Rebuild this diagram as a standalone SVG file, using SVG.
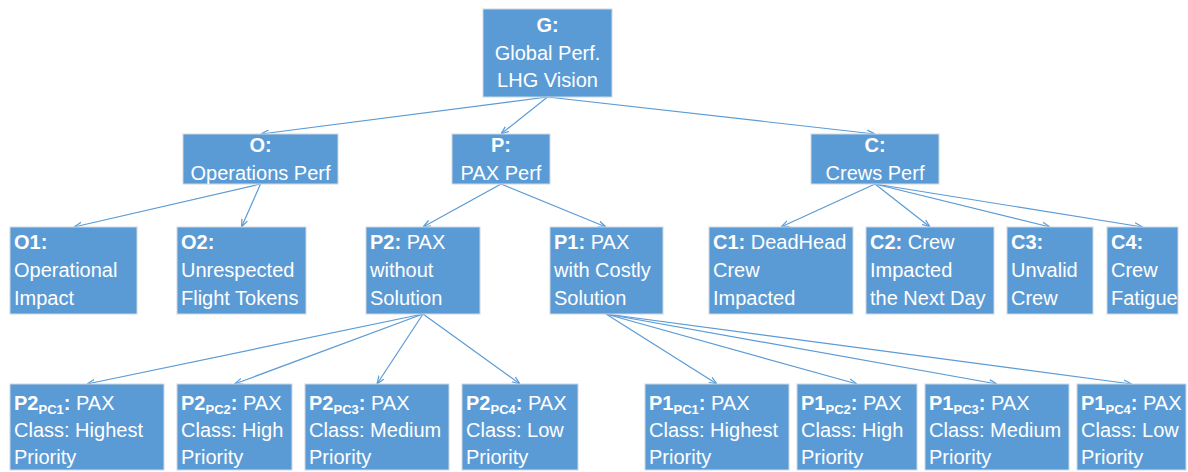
<svg xmlns="http://www.w3.org/2000/svg" width="1188" height="472" viewBox="0 0 1188 472">
<style>
.box{fill:#5B9BD5;stroke:#cfd8e2;stroke-width:1}
.t{font-family:"Liberation Sans",Arial,sans-serif;font-size:20px;fill:#ffffff}
.c{text-anchor:middle}
.b{font-weight:bold}
.s{font-size:13px}
.ln{stroke:#5B9BD5;stroke-width:1.2;fill:none;marker-end:url(#ah)}
</style>
<defs>
<marker id="ah" viewBox="0 0 8 8" refX="8" refY="4" markerWidth="8" markerHeight="8" markerUnits="userSpaceOnUse" orient="auto">
<path d="M0,1 L8,4 L0,7" fill="none" stroke="#5B9BD5" stroke-width="1.2"/>
</marker>
</defs>
<rect width="1188" height="472" fill="#ffffff"/>
<g id="connectors">
<line class="ln" x1="547.5" y1="97" x2="261" y2="134"/>
<line class="ln" x1="547.5" y1="97" x2="501" y2="134"/>
<line class="ln" x1="547.5" y1="97" x2="875" y2="134"/>
<line class="ln" x1="260.5" y1="184" x2="74" y2="227"/>
<line class="ln" x1="260.5" y1="184" x2="241.5" y2="227"/>
<line class="ln" x1="501" y1="184" x2="423" y2="227"/>
<line class="ln" x1="501" y1="184" x2="606" y2="227"/>
<line class="ln" x1="875" y1="184" x2="781" y2="227"/>
<line class="ln" x1="875" y1="184" x2="930" y2="227"/>
<line class="ln" x1="875" y1="184" x2="1050" y2="227"/>
<line class="ln" x1="875" y1="184" x2="1142.5" y2="227"/>
<line class="ln" x1="423" y1="314" x2="87" y2="384"/>
<line class="ln" x1="423" y1="314" x2="234.5" y2="384"/>
<line class="ln" x1="423" y1="314" x2="377" y2="384"/>
<line class="ln" x1="423" y1="314" x2="520" y2="384"/>
<line class="ln" x1="606" y1="314" x2="717" y2="384"/>
<line class="ln" x1="606" y1="314" x2="857" y2="384"/>
<line class="ln" x1="606" y1="314" x2="997" y2="384"/>
<line class="ln" x1="606" y1="314" x2="1131.5" y2="384"/>
</g>
<g id="G">
<rect class="box" x="483" y="9" width="129" height="88"/>
<text class="t c" x="547.5" y="32"><tspan class="b">G:</tspan></text>
<text class="t c" x="547.5" y="60">Global Perf.</text>
<text class="t c" x="547.5" y="87">LHG Vision</text>
</g>
<g id="O">
<rect class="box" x="183" y="134" width="155" height="50"/>
<text class="t c b" x="260.5" y="152">O:</text>
<text class="t c" x="260.5" y="180">Operations Perf</text>
</g>
<g id="P">
<rect class="box" x="452" y="134" width="98" height="50"/>
<text class="t c b" x="501" y="152">P:</text>
<text class="t c" x="501" y="180">PAX Perf</text>
</g>
<g id="C">
<rect class="box" x="811" y="134" width="128" height="50"/>
<text class="t c b" x="875" y="152">C:</text>
<text class="t c" x="875" y="180">Crews Perf</text>
</g>
<g id="O1">
<rect class="box" x="10" y="227" width="127" height="87"/>
<text class="t" x="14" y="249"><tspan class="b">O1:</tspan></text>
<text class="t" x="14" y="277">Operational</text>
<text class="t" x="14" y="305">Impact</text>
</g>
<g id="O2">
<rect class="box" x="177" y="227" width="129" height="87"/>
<text class="t" x="181" y="249"><tspan class="b">O2:</tspan></text>
<text class="t" x="181" y="277">Unrespected</text>
<text class="t" x="181" y="305">Flight Tokens</text>
</g>
<g id="P2">
<rect class="box" x="366" y="227" width="114" height="87"/>
<text class="t" x="370" y="249"><tspan class="b">P2:</tspan> PAX</text>
<text class="t" x="370" y="277">without</text>
<text class="t" x="370" y="305">Solution</text>
</g>
<g id="P1">
<rect class="box" x="550" y="227" width="113" height="87"/>
<text class="t" x="554" y="249"><tspan class="b">P1:</tspan> PAX</text>
<text class="t" x="554" y="277">with Costly</text>
<text class="t" x="554" y="305">Solution</text>
</g>
<g id="C1">
<rect class="box" x="709" y="227" width="144" height="87"/>
<text class="t" x="713" y="249"><tspan class="b">C1:</tspan> DeadHead</text>
<text class="t" x="713" y="277">Crew</text>
<text class="t" x="713" y="305">Impacted</text>
</g>
<g id="C2">
<rect class="box" x="866" y="227" width="128" height="87"/>
<text class="t" x="870" y="249"><tspan class="b">C2:</tspan> Crew</text>
<text class="t" x="870" y="277">Impacted</text>
<text class="t" x="870" y="305">the Next Day</text>
</g>
<g id="C3">
<rect class="box" x="1007" y="227" width="86" height="87"/>
<text class="t" x="1011" y="249"><tspan class="b">C3:</tspan></text>
<text class="t" x="1011" y="277">Unvalid</text>
<text class="t" x="1011" y="305">Crew</text>
</g>
<g id="C4">
<rect class="box" x="1107" y="227" width="71" height="87"/>
<text class="t" x="1111" y="249"><tspan class="b">C4:</tspan></text>
<text class="t" x="1111" y="277">Crew</text>
<text class="t" x="1111" y="305">Fatigue</text>
</g>
<g id="P2PC1">
<rect class="box" x="10" y="384" width="154" height="86"/>
<text class="t" x="14" y="410"><tspan class="b">P2<tspan class="s" dy="4">PC1</tspan><tspan dy="-4">:</tspan></tspan> PAX</text>
<text class="t" x="14" y="437">Class: Highest</text>
<text class="t" x="14" y="464">Priority</text>
</g>
<g id="P2PC2">
<rect class="box" x="177" y="384" width="115" height="86"/>
<text class="t" x="181" y="410"><tspan class="b">P2<tspan class="s" dy="4">PC2</tspan><tspan dy="-4">:</tspan></tspan> PAX</text>
<text class="t" x="181" y="437">Class: High</text>
<text class="t" x="181" y="464">Priority</text>
</g>
<g id="P2PC3">
<rect class="box" x="305" y="384" width="144" height="86"/>
<text class="t" x="309" y="410"><tspan class="b">P2<tspan class="s" dy="4">PC3</tspan><tspan dy="-4">:</tspan></tspan> PAX</text>
<text class="t" x="309" y="437">Class: Medium</text>
<text class="t" x="309" y="464">Priority</text>
</g>
<g id="P2PC4">
<rect class="box" x="462" y="384" width="116" height="86"/>
<text class="t" x="466" y="410"><tspan class="b">P2<tspan class="s" dy="4">PC4</tspan><tspan dy="-4">:</tspan></tspan> PAX</text>
<text class="t" x="466" y="437">Class: Low</text>
<text class="t" x="466" y="464">Priority</text>
</g>
<g id="P1PC1">
<rect class="box" x="645" y="384" width="144" height="86"/>
<text class="t" x="649" y="410"><tspan class="b">P1<tspan class="s" dy="4">PC1</tspan><tspan dy="-4">:</tspan></tspan> PAX</text>
<text class="t" x="649" y="437">Class: Highest</text>
<text class="t" x="649" y="464">Priority</text>
</g>
<g id="P1PC2">
<rect class="box" x="797" y="384" width="120" height="86"/>
<text class="t" x="801" y="410"><tspan class="b">P1<tspan class="s" dy="4">PC2</tspan><tspan dy="-4">:</tspan></tspan> PAX</text>
<text class="t" x="801" y="437">Class: High</text>
<text class="t" x="801" y="464">Priority</text>
</g>
<g id="P1PC3">
<rect class="box" x="925" y="384" width="144" height="86"/>
<text class="t" x="929" y="410"><tspan class="b">P1<tspan class="s" dy="4">PC3</tspan><tspan dy="-4">:</tspan></tspan> PAX</text>
<text class="t" x="929" y="437">Class: Medium</text>
<text class="t" x="929" y="464">Priority</text>
</g>
<g id="P1PC4">
<rect class="box" x="1077" y="384" width="109" height="86"/>
<text class="t" x="1081" y="410"><tspan class="b">P1<tspan class="s" dy="4">PC4</tspan><tspan dy="-4">:</tspan></tspan> PAX</text>
<text class="t" x="1081" y="437">Class: Low</text>
<text class="t" x="1081" y="464">Priority</text>
</g>
</svg>
